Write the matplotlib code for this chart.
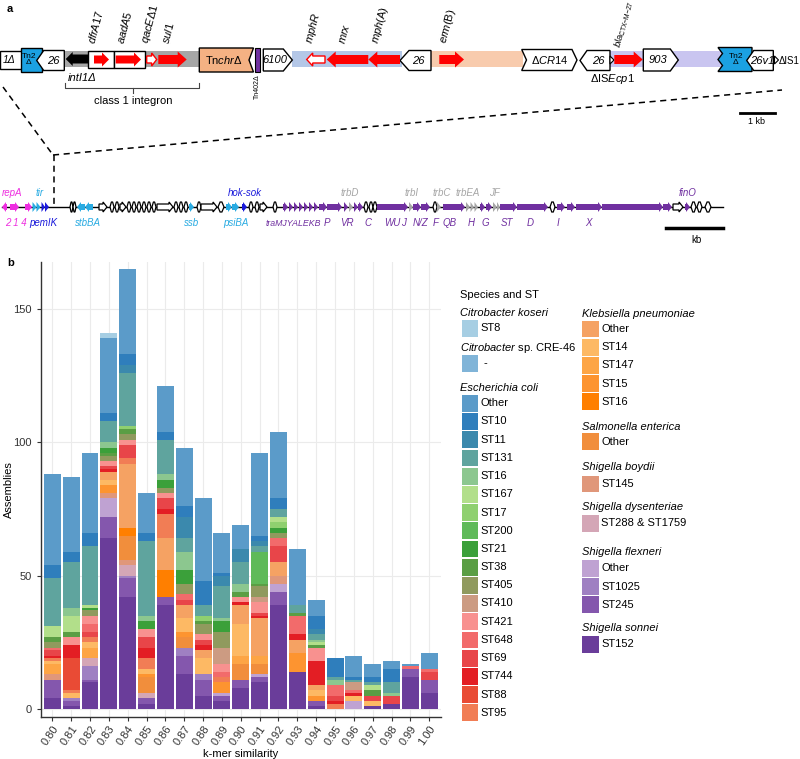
import numpy as np
import matplotlib
matplotlib.use('Agg')
import matplotlib.pyplot as plt
from matplotlib.patches import Polygon, Rectangle

plt.rcParams['font.family'] = ['Liberation Sans', 'DejaVu Sans']
plt.rcParams['mathtext.fontset'] = 'custom'
plt.rcParams['mathtext.rm'] = 'Liberation Sans'
plt.rcParams['mathtext.it'] = 'Liberation Sans:italic'
plt.rcParams['mathtext.bf'] = 'Liberation Sans:bold'

# ---------------- data (panel b) ----------------
kmer = ['0.80', '0.81', '0.82', '0.83', '0.84', '0.85', '0.86', '0.87', '0.88', '0.89', '0.90',
        '0.91', '0.92', '0.93', '0.94', '0.95', '0.96', '0.97', '0.98', '0.99', '1.00']

ck_st8    = [0, 0, 0, 2, 0, 0, 0, 0, 0, 0, 0, 0, 0, 0, 0, 0, 0, 0, 0, 0, 0]
csp_na    = [0, 0, 0, 0, 0, 0, 0, 0, 0, 0, 0, 0, 0, 0, 0, 0, 0, 0, 0, 0, 0]
ec_other  = [34, 28, 30, 28, 32, 15, 17, 22, 31, 15, 9, 31, 25, 21, 6, 0, 8, 5, 3, 1, 6]
ec_st10   = [5, 4, 5, 3, 4, 3, 3, 4, 9, 1, 0, 2, 4, 0, 5, 7, 1, 2, 5, 0, 0]
ec_st11   = [0, 0, 0, 0, 3, 0, 0, 8, 0, 4, 5, 2, 0, 0, 2, 0, 0, 0, 0, 0, 0]
ec_st131  = [18, 17, 22, 8, 20, 28, 13, 5, 4, 12, 8, 2, 3, 3, 2, 1, 1, 1, 4, 0, 0]
ec_st16   = [0, 3, 0, 2, 0, 2, 2, 7, 0, 1, 3, 0, 0, 0, 1, 2, 0, 0, 1, 0, 0]
ec_st167  = [4, 6, 1, 0, 0, 0, 0, 0, 0, 0, 0, 0, 2, 0, 1, 0, 0, 2, 0, 0, 0]
ec_st17   = [0, 0, 0, 0, 1, 0, 0, 0, 2, 0, 0, 0, 2, 0, 0, 0, 0, 0, 0, 0, 0]
ec_st200  = [0, 0, 0, 0, 0, 0, 0, 0, 0, 0, 0, 12, 0, 0, 0, 0, 0, 0, 0, 0, 0]
ec_st21   = [0, 0, 1, 2, 0, 3, 3, 5, 0, 4, 0, 0, 2, 0, 0, 0, 0, 0, 0, 0, 0]
ec_st38   = [2, 2, 0, 1, 2, 0, 0, 0, 1, 0, 2, 1, 0, 1, 1, 0, 0, 2, 0, 0, 0]
ec_st405  = [2, 0, 2, 2, 2, 0, 2, 4, 4, 6, 0, 4, 2, 0, 0, 0, 0, 0, 0, 0, 0]
ec_st410  = [0, 0, 0, 0, 0, 0, 0, 0, 0, 6, 0, 2, 0, 0, 0, 0, 3, 0, 0, 0, 0]
ec_st421  = [0, 3, 3, 2, 2, 3, 2, 0, 2, 3, 2, 4, 0, 0, 5, 0, 0, 0, 0, 0, 0]
ec_st648  = [1, 0, 3, 0, 0, 0, 0, 2, 0, 2, 0, 0, 3, 7, 0, 4, 1, 0, 0, 1, 1]
ec_st69   = [2, 0, 2, 1, 5, 4, 4, 2, 2, 0, 0, 1, 6, 0, 0, 2, 0, 2, 3, 0, 3]
ec_st744  = [1, 5, 0, 1, 0, 4, 2, 0, 2, 0, 1, 1, 0, 2, 9, 1, 1, 0, 0, 0, 0]
ec_st88   = [0, 12, 0, 0, 0, 0, 0, 0, 0, 0, 0, 0, 0, 0, 0, 0, 0, 0, 0, 0, 0]
ec_st95   = [1, 1, 2, 0, 2, 4, 9, 0, 0, 2, 0, 0, 0, 0, 0, 2, 0, 0, 0, 0, 0]
kp_other  = [0, 0, 0, 3, 24, 0, 12, 5, 3, 0, 7, 14, 5, 5, 2, 0, 0, 0, 0, 0, 0]
kp_st14   = [1, 2, 2, 2, 0, 2, 0, 5, 6, 0, 12, 0, 0, 0, 2, 0, 2, 2, 0, 0, 0]
kp_st147  = [4, 0, 4, 0, 0, 0, 0, 0, 0, 0, 3, 3, 0, 0, 0, 0, 0, 0, 0, 0, 0]
kp_st15   = [0, 0, 0, 3, 0, 1, 0, 2, 0, 4, 0, 0, 0, 7, 2, 0, 0, 0, 0, 0, 0]
kp_st16   = [0, 0, 0, 0, 3, 0, 10, 0, 0, 0, 0, 0, 0, 0, 0, 0, 0, 0, 0, 0, 0]
se_other  = [0, 0, 0, 0, 9, 6, 0, 4, 0, 0, 6, 4, 0, 0, 0, 0, 0, 0, 0, 0, 0]
sb_st145  = [2, 0, 0, 2, 2, 0, 0, 0, 0, 0, 0, 0, 3, 0, 0, 0, 0, 0, 0, 0, 0]
sd_st288  = [0, 0, 3, 0, 4, 2, 0, 0, 0, 0, 0, 0, 0, 0, 0, 0, 0, 0, 0, 0, 0]
sf_other  = [0, 0, 0, 7, 0, 0, 0, 0, 0, 1, 0, 1, 3, 0, 0, 0, 3, 0, 0, 0, 0]
sf_st1025 = [0, 1, 5, 0, 1, 0, 0, 3, 2, 0, 0, 0, 0, 0, 0, 0, 0, 0, 0, 0, 0]
sf_st245  = [7, 2, 1, 8, 7, 2, 3, 7, 6, 2, 3, 2, 5, 0, 2, 0, 0, 0, 0, 3, 5]
ss_st152  = [4, 1, 10, 64, 42, 2, 39, 13, 5, 3, 8, 10, 39, 14, 1, 0, 0, 1, 2, 12, 6]

# legend groups: (species, [(label, color, values), ...])
groups_col1 = [
    ('Citrobacter koseri', [('ST8', '#a6cee3', ck_st8)]),
    ('Citrobacter sp. CRE-46', [('-', '#80b4d8', csp_na)]),
    ('Escherichia coli', [
        ('Other', '#5b9bc9', ec_other), ('ST10', '#2f7ebc', ec_st10), ('ST11', '#3b89ad', ec_st11),
        ('ST131', '#5fa49e', ec_st131), ('ST16', '#8cc78f', ec_st16), ('ST167', '#b2df8a', ec_st167),
        ('ST17', '#8fd06f', ec_st17), ('ST200', '#5fba59', ec_st200), ('ST21', '#3ba03a', ec_st21),
        ('ST38', '#5a9e44', ec_st38), ('ST405', '#909a5e', ec_st405), ('ST410', '#cc9b82', ec_st410),
        ('ST421', '#f8918f', ec_st421), ('ST648', '#f26b6b', ec_st648), ('ST69', '#e84549', ec_st69),
        ('ST744', '#e31e24', ec_st744), ('ST88', '#e94b35', ec_st88), ('ST95', '#f17d55', ec_st95)]),
]
groups_col2 = [
    ('Klebsiella pneumoniae', [
        ('Other', '#f5a263', kp_other), ('ST14', '#fdb964', kp_st14), ('ST147', '#fda545', kp_st147),
        ('ST15', '#fd9430', kp_st15), ('ST16', '#ff7f00', kp_st16)]),
    ('Salmonella enterica', [('Other', '#f18e3c', se_other)]),
    ('Shigella boydii', [('ST145', '#e0977a', sb_st145)]),
    ('Shigella dysenteriae', [('ST288 & ST1759', '#d4a6b6', sd_st288)]),
    ('Shigella flexneri', [('Other', '#bfa2d2', sf_other), ('ST1025', '#9f80c2', sf_st1025),
                           ('ST245', '#8457ad', sf_st245)]),
    ('Shigella sonnei', [('ST152', '#6a3d9a', ss_st152)]),
]

# ---------------- figure ----------------
fig = plt.figure(figsize=(8.0, 7.59), dpi=100)
ax0 = fig.add_axes([0, 0, 1, 1])
ax0.set_xlim(0, 800)
ax0.set_ylim(759, 0)
ax0.axis('off')


def poly(pts, fc, ec='black', lw=1.0, z=3):
    ax0.add_patch(Polygon(pts, closed=True, fc=fc, ec=ec, lw=lw, zorder=z, joinstyle='miter'))


def pent(x0, x1, yc, h, d, pt=7, fc='white', ec='black', lw=1.0, z=3):
    t, b = yc - h / 2, yc + h / 2
    if d == 'r':
        pts = [(x0, t), (x1 - pt, t), (x1, yc), (x1 - pt, b), (x0, b)]
    else:
        pts = [(x1, t), (x0 + pt, t), (x0, yc), (x0 + pt, b), (x1, b)]
    poly(pts, fc, ec, lw, z)


def arrow(x0, x1, yc, d, bh, hh, hl, fc, ec='none', lw=1.0, z=4):
    hl = min(hl, (x1 - x0))
    if d == 'r':
        pts = [(x0, yc - bh / 2), (x1 - hl, yc - bh / 2), (x1 - hl, yc - hh / 2), (x1, yc),
               (x1 - hl, yc + hh / 2), (x1 - hl, yc + bh / 2), (x0, yc + bh / 2)]
    else:
        pts = [(x1, yc - bh / 2), (x0 + hl, yc - bh / 2), (x0 + hl, yc - hh / 2), (x0, yc),
               (x0 + hl, yc + hh / 2), (x0 + hl, yc + bh / 2), (x1, yc + bh / 2)]
    poly(pts, fc, ec, lw, z)


RED = '#ff0000'
# bands
for x0, x1, c in [(64, 199, '#a6a6a6'), (292, 402, '#b4c7e7'), (431, 523, '#f8cbad'), (610, 722, '#c9c5f0')]:
    ax0.add_patch(Rectangle((x0, 51), x1 - x0, 16, fc=c, ec='none', zorder=1))

# left part
ax0.add_patch(Rectangle((0, 50.5), 22, 18, fc='white', ec='black', lw=1.0, zorder=2))
ax0.text(9, 60, '1Δ', fontsize=7.5, style='italic', ha='center', va='center', zorder=6)
ax0.add_patch(Rectangle((20.7, 47.5), 21, 24, fc='#1ba1e2', ec='black', lw=1.0, zorder=3))
ax0.text(29, 59.5, 'Tn2\nΔ', fontsize=6, ha='center', va='center', linespacing=1.0, zorder=6)
pent(36.7, 64.3, 60.5, 20, 'l', pt=7)
ax0.text(53, 60.5, '26', fontsize=8, style='italic', ha='center', va='center', zorder=6)
arrow(65.7, 88.3, 59, 'l', 9, 14, 7, 'black')
ax0.add_patch(Rectangle((88.3, 50.7), 26, 17.6, fc='white', ec='black', lw=1.0, zorder=3))
arrow(94, 109, 59.5, 'r', 8, 14, 7, RED)
ax0.add_patch(Rectangle((114.3, 50.7), 30.7, 17.6, fc='white', ec='black', lw=1.0, zorder=3))
arrow(115.7, 141, 59.5, 'r', 8, 14, 7, RED)
arrow(146.7, 156.7, 59.5, 'r', 7, 13, 5, 'white', ec=RED, lw=1.0)
arrow(158.3, 186.7, 59.5, 'r', 9, 16, 9, RED)
poly([(199.3, 48), (253.5, 48), (249, 60), (253.5, 72), (199.3, 72)], '#f4b183')
ax0.text(224, 60, r'Tn$\mathit{chr}$Δ', fontsize=8, ha='center', va='center', zorder=6)
ax0.add_patch(Rectangle((254.5, 47.5), 5.5, 24.5, fc='#7030a0', ec='black', lw=0.8, zorder=3))
pent(263.3, 292.3, 60, 22, 'r', pt=9)
ax0.text(275, 60, '6100', fontsize=8, style='italic', ha='center', va='center', zorder=6)
arrow(306.7, 325, 59.5, 'l', 7, 13, 6, 'white', ec=RED, lw=1.0)
arrow(326.7, 368.3, 59.5, 'l', 9, 16, 9, RED)
arrow(368.3, 400, 59.5, 'l', 9, 16, 9, RED)
pent(400, 431, 60.5, 20, 'l', pt=9)
ax0.text(418, 60.5, '26', fontsize=8, style='italic', ha='center', va='center', zorder=6)
arrow(439.3, 464, 59.5, 'r', 9, 16, 9, RED)
poly([(521.7, 49.5), (572, 49.5), (577, 60), (572, 70.5), (521.7, 70.5), (526.5, 60)], 'white')
ax0.text(550, 60, r'Δ$\mathit{CR14}$', fontsize=8, ha='center', va='center', zorder=6)
pent(580, 610, 60.5, 20, 'l', pt=7)
ax0.text(598, 60.5, '26', fontsize=8, style='italic', ha='center', va='center', zorder=6)
poly([(610, 56), (614, 60), (610, 64)], 'white', lw=0.8)
arrow(614.3, 642.7, 59.5, 'r', 9, 16, 9, RED)
pent(643.3, 678.3, 60, 22, 'r', pt=8)
ax0.text(658, 60, '903', fontsize=8, style='italic', ha='center', va='center', zorder=6)
poly([(718, 47.5), (752, 47.5), (752, 71.5), (718, 71.5), (722.5, 65.5), (718, 59.5), (722.5, 53.5)],
     '#1ba1e2')
ax0.text(736, 59.5, 'Tn2\nΔ', fontsize=6, ha='center', va='center', linespacing=1.0, zorder=6)
pent(746.7, 773.3, 60.5, 20, 'l', pt=7)
ax0.text(762, 60.5, '26v1', fontsize=8, style='italic', ha='center', va='center', zorder=6)
poly([(774.5, 56), (778.5, 60), (774.5, 64)], 'white', lw=0.8)
ax0.text(779, 60.5, 'ΔIS1', fontsize=7, ha='left', va='center', zorder=6)

# rotated gene labels
for x, s in [(95, r'$\mathit{dfrA17}$'), (124, r'$\mathit{aadA5}$'), (148, r'$\mathit{qacE}$Δ$\mathit{1}$'),
             (169, r'$\mathit{sul1}$'), (312, r'$\mathit{mphR}$'), (345, r'$\mathit{mrx}$'),
             (378, r'$\mathit{mph}$(A)'), (446, r'$\mathit{erm}$(B)')]:
    ax0.text(x, 44, s, fontsize=8, rotation=75, rotation_mode='anchor', ha='left', va='baseline', zorder=6)
ax0.text(621, 48, r'$\mathit{bla}_{\mathrm{CTX{-}M{-}27}}$', fontsize=6.8, rotation=75,
         rotation_mode='anchor', ha='left', va='baseline', zorder=6)

ax0.text(68, 78, 'intI1Δ', fontsize=8, style='italic', ha='left', va='center')
ax0.plot([65, 65, 199, 199], [83, 88, 88, 83], color='#444444', lw=0.8)
ax0.plot([133, 133], [88, 93], color='#444444', lw=0.8)
ax0.text(133, 101, 'class 1 integron', fontsize=8, ha='center', va='center')
ax0.text(257.5, 74, 'Tn402Δ', fontsize=5, rotation=90, ha='center', va='top')
ax0.text(612, 79, r'ΔIS$\mathit{Ecp1}$', fontsize=8, ha='center', va='center')
ax0.plot([740, 775], [113, 113], color='black', lw=2)
ax0.text(757, 122, '1 kb', fontsize=6.5, ha='center', va='center')

# dashed zoom lines
ax0.plot([3, 53], [87, 155], color='black', lw=1.1, ls=(0, (4, 3)))
ax0.plot([53, 782], [155, 90], color='black', lw=1.1, ls=(0, (4, 3)))
ax0.plot([54, 54], [155, 207], color='black', lw=1.1, ls=(0, (4, 3)))

# ---------------- plasmid map ----------------
PY = 207
ax0.plot([2, 723], [PY, PY], color='black', lw=1.0, zorder=2)
MAG, CYA, BLU, PUR, GRY = '#ee2ee0', '#29abe2', '#1a1adb', '#7030a0', '#a6a6a6'
cmap = {'m': MAG, 'c': CYA, 'b': BLU, 'p': PUR, 'g': GRY}
pgenes = [
    (2, 7, 'm', 'l'), (10, 19, 'm', 'r'), (25, 32, 'm', 'r'), (32.5, 36.5, 'c', 'r'), (36.5, 40.5, 'c', 'r'),
    (41.5, 45, 'b', 'r'), (45, 49, 'b', 'r'),
    (70, 73, 'w', 'h'), (73, 76, 'w', 'h'), (77, 85, 'c', 'l'), (85, 93, 'c', 'l'),
    (99, 107, 'w', 'r'), (110, 114, 'w', 'h'), (115, 119, 'w', 'h'), (120, 126, 'w', 'r'),
    (127, 131, 'w', 'h'), (132, 136, 'w', 'h'), (137, 141, 'w', 'h'), (142, 146, 'w', 'h'),
    (147, 151, 'w', 'h'), (152, 156, 'w', 'h'), (157, 173, 'w', 'r'), (174, 178, 'w', 'h'),
    (179, 183, 'w', 'h'), (184, 188, 'w', 'h'), (189, 194, 'c', 'r'), (197, 201, 'w', 'h'),
    (201, 217, 'w', 'r'), (218, 224, 'w', 'h'), (226, 232, 'c', 'r'), (232, 239, 'c', 'r'),
    (242, 247, 'b', 'r'), (249, 253, 'w', 'h'), (255, 259, 'w', 'h'), (260, 267, 'w', 'r'),
    (273, 277, 'w', 'h'),
    (283, 288, 'p', 'r'), (289, 293, 'p', 'r'), (294, 298, 'p', 'r'), (299, 303, 'p', 'r'),
    (304, 308, 'p', 'r'), (309, 313, 'p', 'r'), (314, 318, 'p', 'r'), (319, 327, 'p', 'r'),
    (327, 342, 'p', 'r'), (344, 348, 'p', 'r'), (349, 353, 'g', 'r'), (354, 358, 'p', 'r'),
    (358, 363, 'p', 'r'), (364, 368, 'w', 'h'), (369, 373, 'w', 'h'), (373, 377, 'w', 'h'),
    (377, 408, 'p', 'r'), (409, 413, 'g', 'r'), (413, 421, 'p', 'r'), (421, 430, 'p', 'r'),
    (433, 437, 'w', 'h'), (437, 441, 'g', 'r'), (443, 465, 'p', 'r'), (466, 470, 'g', 'r'),
    (470.5, 474, 'g', 'r'), (474.5, 478, 'g', 'r'), (480, 485, 'p', 'r'), (486, 492, 'p', 'r'),
    (493, 497, 'g', 'r'), (497, 500, 'g', 'r'), (500, 517, 'p', 'r'), (517, 548, 'p', 'r'),
    (550, 555, 'w', 'h'), (557, 565, 'p', 'r'), (567, 575, 'p', 'r'), (576, 602, 'p', 'r'),
    (602, 663, 'p', 'r'), (663, 672, 'p', 'r'), (673, 683, 'w', 'r'), (685, 690, 'p', 'r'),
    (691, 696, 'w', 'h'), (697, 702, 'w', 'h'), (705, 711, 'w', 'h'),
]
for x0, x1, ck, d in pgenes:
    if ck == 'w':
        if d == 'h':
            w = x1 - x0
            poly([(x0, PY), (x0 + w * 0.35, PY - 5), (x1 - w * 0.35, PY - 5), (x1, PY),
                  (x1 - w * 0.35, PY + 5), (x0 + w * 0.35, PY + 5)], 'white', lw=0.9, z=4)
        else:
            arrow(x0, x1, PY, d, 6, 10, 4, 'white', ec='black', lw=0.9)
    else:
        arrow(x0, x1, PY, d, 6, 10, 4, cmap[ck])

ptxt_top = [(2, 'repA', MAG, 'left'), (36, 'tir', CYA, 'left'), (245, 'hok-sok', BLU, 'center'),
            (350, 'trbD', GRY, 'center'), (412, 'trbI', GRY, 'center'), (442, 'trbC', GRY, 'center'),
            (468, 'trbEA', GRY, 'center'), (494, 'JF', GRY, 'center'), (688, 'finO', PUR, 'center')]
for x, s, c, ha in ptxt_top:
    ax0.text(x, 193, s, fontsize=7, style='italic', color=c, ha=ha, va='center')
ptxt_bot = [(5, '2 1 4', MAG, 'left', 7), (43, 'pemIK', BLU, 'center', 7), (88, 'stbBA', CYA, 'center', 7),
            (192, 'ssb', CYA, 'center', 7), (236, 'psiBA', CYA, 'center', 7),
            (266, 'traMJYALEKB', PUR, 'left', 6.3), (327, 'P', PUR, 'center', 7),
            (347, 'VR', PUR, 'center', 7), (368, 'C', PUR, 'center', 7),
            (392, 'WU', PUR, 'center', 7), (403, 'J', PUR, 'center', 7), (421, 'N/Z', PUR, 'center', 7),
            (436, 'F', PUR, 'center', 7), (450, 'QB', PUR, 'center', 7), (471, 'H', PUR, 'center', 7),
            (485, 'G', PUR, 'center', 7), (507, 'ST', PUR, 'center', 7), (530, 'D', PUR, 'center', 7),
            (558, 'I', PUR, 'center', 7), (588, 'X', PUR, 'center', 7)]
for x, s, c, ha, fs in ptxt_bot:
    ax0.text(x, 223, s, fontsize=fs, style='italic', color=c, ha=ha, va='center')
ax0.plot([666, 723], [227.5, 227.5], color='black', lw=2.5)
ax0.text(696, 240, 'kb', fontsize=7, ha='center', va='center')

ax0.text(7, 9, 'a', fontsize=8, fontweight='bold', ha='left', va='center')
ax0.text(7, 263, 'b', fontsize=8, fontweight='bold', ha='left', va='center')

# ---------------- panel b: stacked bars ----------------
W, H = 800.0, 759.0
axL, axR, axB, axT = 41.0, 440.6, 716.7, 262.0
ax = fig.add_axes([axL / W, 1 - axB / H, (axR - axL) / W, (axB - axT) / H])
ax.set_facecolor('white')
xpos = np.arange(len(kmer))
series = []
for _, items in groups_col1 + groups_col2:
    series.extend(items)
bottom = np.zeros(len(kmer))
for lab, col, vals in reversed(series):
    v = np.array(vals, dtype=float)
    ax.bar(xpos, v, bottom=bottom, width=0.9, color=col, linewidth=0, zorder=3)
    bottom += v

ax.set_xlim(-0.6, len(kmer) - 0.4)
ax.set_ylim(-2.9, 167.6)
ax.set_yticks([0, 50, 100, 150])
ax.set_xticks(xpos)
ax.set_xticklabels(kmer, rotation=55, ha='right', va='top', rotation_mode='anchor')
ax.tick_params(axis='both', labelsize=8, colors='#333333', length=3, width=0.8)
ax.tick_params(axis='x', pad=2)
ax.grid(True, color='#ebebeb', lw=0.8, zorder=0)
for s in ['top', 'right']:
    ax.spines[s].set_visible(False)
for s in ['left', 'bottom']:
    ax.spines[s].set_color('#333333')
    ax.spines[s].set_linewidth(1.0)
ax.set_ylabel('Assemblies', fontsize=8)
ax.yaxis.set_label_coords(-0.068, 0.5)
ax.set_xlabel('k-mer similarity', fontsize=8)
ax.xaxis.set_label_coords(0.5, -0.07)

# ---------------- legend (manual) ----------------
ax0.text(460, 295, 'Species and ST', fontsize=8, ha='left', va='center')
SW = 16.6
STEP = 18.2
FS = 8


def title_text(x, y, sp):
    if sp.endswith('sp. CRE-46'):
        s = r'$\mathit{Citrobacter}$ sp. CRE-46'
        ax0.text(x, y, s, fontsize=FS, ha='left', va='center')
    else:
        ax0.text(x, y, sp, fontsize=FS, style='italic', ha='left', va='center')


col1_titles = [313, 348, 387.7]
col1_first = [328.3, 363.3, 403.3]
for (sp, items), ty, fy in zip(groups_col1, col1_titles, col1_first):
    title_text(460, ty, sp)
    for i, (lab, col, _) in enumerate(items):
        yc = fy + i * STEP
        ax0.add_patch(Rectangle((461.7, yc - 8.4), SW, 16.8, fc=col, ec='none'))
        ax0.text(480.5 if lab != '-' else 484, yc, lab, fontsize=FS, ha='left', va='center')

col2_titles = [314, 426.7, 467.3, 506.7, 552.3, 627.7]
col2_first = [329, 441.7, 484, 523.3, 568.3, 644.3]
for (sp, items), ty, fy in zip(groups_col2, col2_titles, col2_first):
    title_text(582, ty, sp)
    for i, (lab, col, _) in enumerate(items):
        yc = fy + i * STEP
        ax0.add_patch(Rectangle((582.3, yc - 8.4), SW, 16.8, fc=col, ec='none'))
        ax0.text(601, yc, lab, fontsize=FS, ha='left', va='center')

fig.savefig('out.png', dpi=100)
